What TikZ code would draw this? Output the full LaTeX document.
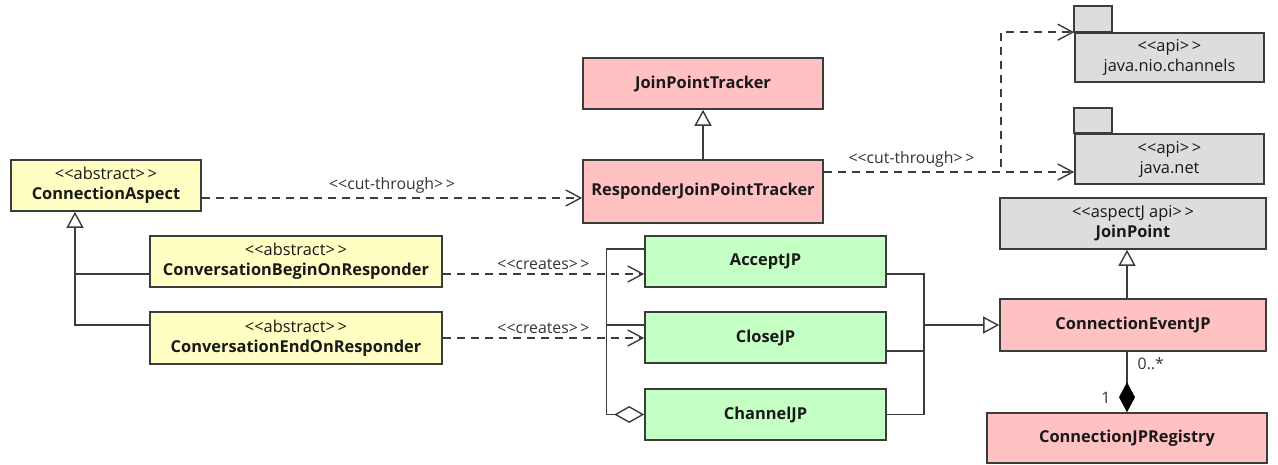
\documentclass[tikz,border=0pt]{standalone}
\usepackage{fontspec}
\setmainfont{Open Sans}
\usetikzlibrary{arrows.meta}
\definecolor{umlyellow}{RGB}{255,255,196}
\definecolor{umlpink}{RGB}{255,193,193}
\definecolor{umlgreen}{RGB}{196,255,196}
\definecolor{umlgray}{RGB}{221,221,221}
\definecolor{linec}{RGB}{60,60,60}
% stereotype brackets, kept apart so they are not merged into guillemets
\newcommand{\stereo}[1]{<{}<#1>{}\,>}
\begin{document}
\begin{tikzpicture}[x=0.5pt,y=-0.5pt,
  font=\fontsize{8.2}{10}\selectfont,
  cls/.style={draw=linec, line width=0.8pt, inner sep=0pt, align=center, text=black!90},
  yel/.style={cls, fill=umlyellow},
  pnk/.style={cls, fill=umlpink},
  grn/.style={cls, fill=umlgreen},
  gry/.style={cls, fill=umlgray},
  conn/.style={draw=linec, line width=0.7pt},
  dep/.style={conn, dashed, dash pattern=on 4pt off 3pt, -{Straight Barb[length=7.5pt,width=8pt]}},
  inherit/.style={conn, -{Triangle[open,length=8pt,width=8.5pt,fill=white]}},
  aggr/.style={conn, -{Diamond[open,length=15pt,width=8.5pt,fill=white]}},
  compo/.style={conn, -{Diamond[length=15pt,width=8pt,fill=black,color=black]}},
  lbl/.style={font=\fontsize{7.9}{9.5}\selectfont, text=black!80, inner sep=2pt}
]
\useasboundingbox (0,0) rectangle (1278,465);

% classes
\node[yel, minimum width=95pt, minimum height=25.5pt] (aspect) at (106,185.5)
  {\stereo{abstract}\\\textbf{ConnectionAspect}};
\node[yel, minimum width=146pt, minimum height=25.5pt] (begin) at (296,261.5)
  {\stereo{abstract}\\\textbf{ConversationBeginOnResponder}};
\node[yel, minimum width=146pt, minimum height=26pt] (endr) at (296,338)
  {\stereo{abstract}\\\textbf{ConversationEndOnResponder}};
\node[pnk, minimum width=120pt, minimum height=25.5pt] (tracker) at (703,83.5)
  {\textbf{JoinPointTracker}};
\node[pnk, minimum width=120pt, minimum height=31.5pt] (responder) at (703,191.5)
  {\textbf{ResponderJoinPointTracker}};
\node[grn, minimum width=120.5pt, minimum height=25.5pt] (accept) at (765.5,261.5)
  {\textbf{AcceptJP}};
\node[grn, minimum width=120.5pt, minimum height=25.5pt] (close) at (765.5,337.5)
  {\textbf{CloseJP}};
\node[grn, minimum width=120.5pt, minimum height=25.5pt] (channel) at (765.5,414.5)
  {\textbf{ChannelJP}};
\node[gry, minimum width=133pt, minimum height=25.5pt] (joinpoint) at (1133,223.5)
  {\stereo{aspectJ api}\\\textbf{JoinPoint}};
\node[pnk, minimum width=133pt, minimum height=26pt] (event) at (1133,325)
  {\textbf{ConnectionEventJP}};
\node[pnk, minimum width=140pt, minimum height=25pt] (registry) at (1127,438)
  {\textbf{ConnectionJPRegistry}};

% packages
\node[gry, minimum width=94.5pt, minimum height=24.5pt] (nio) at (1169.5,57.5)
  {\stereo{api}\\java.nio.channels};
\draw[draw=linec, line width=0.8pt, fill=umlgray] (nio.north west) rectangle ++(19pt,13pt);
\node[gry, minimum width=94.5pt, minimum height=25pt] (net) at (1169.5,159)
  {\stereo{api}\\java.net};
\draw[draw=linec, line width=0.8pt, fill=umlgray] (net.north west) rectangle ++(19pt,12.5pt);

% generalisation of the aspects
\coordinate (trunk) at ([xshift=-15.5pt]aspect.south);
\coordinate (bj) at ([yshift=-6.25pt]begin.west);
\coordinate (ej) at ([yshift=6.5pt]endr.west);
\draw[conn] (bj) -- (bj -| trunk);
\draw[inherit] (ej) -| (trunk);

% cut-through dependencies
\coordinate (a1) at ([yshift=-6.25pt]aspect.east);
\draw[dep] (a1) -- node[lbl, above] (ct1) {\stereo{cut-through}} (a1 -| responder.west);
\coordinate (r1) at ([yshift=9.75pt]responder.east);
\draw[dep] (r1) -- node[lbl, above, pos=0.35] (ct2) {\stereo{cut-through}} (r1 -| net.west);
\draw[dep] (r1) -- ++(88.5pt,0) |- (nio.north west);

% tracker hierarchy
\draw[inherit] (responder.north) -- (tracker.south);

% creates dependencies
\draw[dep] (bj -| begin.east) -- node[lbl, above] (cr1) {\stereo{creates}} (bj -| accept.west);
\draw[dep] (endr.east) -- node[lbl, above] (cr2) {\stereo{creates}} (endr.east -| close.west);

% aggregation of the join points
\coordinate (g1) at ([yshift=6.25pt]accept.west);
\coordinate (g2) at ([yshift=6.25pt]close.west);
\draw[aggr] (g1) -- ++(-19pt,0) |- (channel.west);
\draw[conn] (g2) -- ++(-19pt,0);

% join points specialise ConnectionEventJP
\coordinate (h1) at ([yshift=-6.25pt]accept.east);
\coordinate (h2) at ([yshift=-6.75pt]close.east);
\coordinate (hub) at ([xshift=18.5pt]h1);
\draw[conn] (h1) -- (hub) |- (channel.east);
\draw[conn] (h2) -- (h2 -| hub);
\draw[inherit] (event.west -| hub) -- (event.west);

% ConnectionEventJP is a JoinPoint
\draw[inherit] ([xshift=-3pt]event.north) -- ([xshift=-3pt]joinpoint.south);

% registry composition
\draw[compo] ([xshift=-3pt]event.south) -- node[lbl, pos=0.2, right, xshift=3pt] (m1) {0..*}
  (registry.north) node[lbl, above left, xshift=-6pt, yshift=2pt] (m2) {1};
\end{tikzpicture}
\end{document}
